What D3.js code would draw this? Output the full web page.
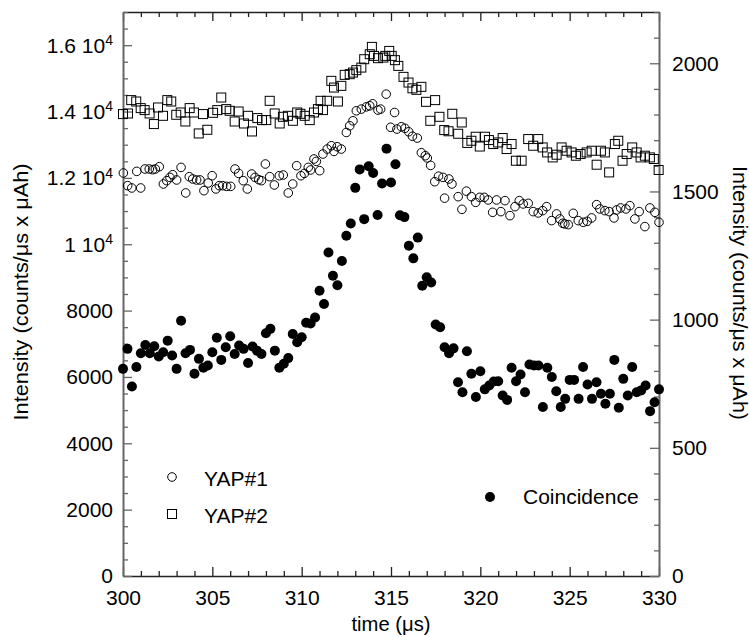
<!DOCTYPE html>
<html>
<head>
<meta charset="utf-8">
<script src="https://cdn.jsdelivr.net/npm/d3@7"></script>
<style>
  html, body { margin: 0; padding: 0; background: #fff; }
  svg { display: block; }
  text { font-family: "Liberation Sans", Arial, Helvetica, sans-serif; fill: #000; }
</style>
</head>
<body>
<svg id="chart" width="750" height="637"></svg>
<script>
// ---------------- DATA ----------------
// YAP#1 (open circles, left axis)
const yap1Time = [300.02,300.26,300.49,300.77,300.99,301.23,301.47,301.66,301.81,302.03,302.26,302.45,302.63,302.78,303.0,303.25,303.51,303.71,303.9,304.12,304.31,304.53,304.77,304.99,305.2,305.39,305.58,305.8,306.03,306.27,306.47,306.73,306.96,307.2,307.39,307.6,307.75,307.97,308.21,308.47,308.75,308.97,309.25,309.5,309.72,309.96,310.15,310.37,310.5,310.69,310.82,311.01,311.19,311.43,311.66,311.81,311.99,312.22,312.5,312.69,312.87,313.06,313.34,313.62,313.81,313.97,314.27,314.42,314.73,314.98,315.2,315.33,315.58,315.78,315.99,316.2,316.47,316.7,316.92,317.03,317.22,317.45,317.66,317.91,318.0,318.24,318.41,318.76,318.97,319.22,319.5,319.74,319.97,320.22,320.44,320.69,320.91,321.15,321.38,321.66,321.94,322.18,322.4,322.68,322.96,323.24,323.49,323.71,323.99,324.27,324.45,324.61,324.73,324.92,325.2,325.48,325.76,325.98,326.23,326.51,326.69,326.97,327.21,327.48,327.63,327.85,328.15,328.37,328.65,328.89,329.21,329.49,329.77,330.0];
const yap1Value = [12147,11765,11696,12196,11696,12268,12268,12247,12268,12337,11816,11916,12015,12096,11937,12316,11546,12036,11967,11937,11937,11615,11846,12066,11666,11765,11765,11744,11744,12268,12135,11916,11666,12117,12015,11946,11916,12418,12036,11786,12066,12087,11546,11816,12367,12066,12135,12316,12238,12569,12497,12217,12719,12869,12969,12797,12939,12869,13369,13571,13721,14022,14073,14142,14172,14233,14043,14073,14524,13525,13971,13471,13541,13495,13390,13255,13200,12758,12668,12599,12376,11886,12051,12015,11389,11967,11816,11434,11052,11600,11434,11263,11413,11413,11335,10962,11335,10983,11314,10862,11133,11314,11215,11233,10983,10944,11013,11133,10712,10914,10763,10631,10613,10592,10932,10712,10661,10691,10793,11193,11064,11013,10983,10793,11034,11094,11064,11163,10763,10983,10532,11094,10962,10661];

// YAP#2 (open squares, left axis)
const yap2Time = [300.0,300.28,300.46,300.74,300.99,301.21,301.49,301.73,301.96,302.24,302.48,302.7,302.98,303.23,303.49,303.73,303.97,304.24,304.48,304.72,305.04,305.28,305.5,305.78,305.97,306.25,306.47,306.77,307.0,307.22,307.52,307.78,308.02,308.21,308.49,308.77,308.95,309.23,309.51,309.75,309.93,310.17,310.45,310.69,310.91,311.06,311.19,311.43,311.66,311.81,312.03,312.22,312.41,312.69,312.87,313.06,313.34,313.5,313.81,313.93,314.05,314.27,314.57,314.68,314.9,315.04,315.22,315.41,315.7,315.98,316.2,316.42,316.7,316.96,317.2,317.47,317.71,317.98,318.22,318.43,318.76,318.96,319.27,319.5,319.74,319.97,320.26,320.48,320.72,321.0,321.25,321.47,321.75,321.99,322.31,322.68,322.96,323.24,323.49,323.74,324.05,324.27,324.55,324.83,325.11,325.35,325.61,325.95,326.23,326.51,326.75,326.97,327.21,327.53,327.72,327.96,328.19,328.5,328.75,328.97,329.21,329.49,329.71,329.98];
const yap2Value = [13923,13941,14344,14302,14103,14043,13941,13622,14122,13871,14344,14302,13902,13971,13700,14103,13971,13339,13923,13450,13962,14043,14422,14073,14022,13700,14001,13640,13871,13399,13802,13742,13742,14323,13941,13640,13841,13871,13721,13971,13932,13871,13742,13971,14073,14323,14043,14323,14925,14723,14302,14774,15105,15126,15174,15247,15325,15577,15728,15948,15677,15608,15626,15677,15827,15677,15548,15376,15045,14874,14699,14654,14744,14293,13721,14344,13841,13441,13405,13932,13330,13670,13053,13119,13240,12945,13240,13140,13020,13068,13200,12869,13020,12517,12517,13170,12969,13170,12918,12767,12617,12698,12918,12818,12767,12668,12719,12767,12818,12397,12818,12767,12165,13020,13119,12517,12719,12918,12767,12617,12668,12617,12569,12238];

// Coincidence (filled circles, right axis)
const coincTime = [300,300.25,300.5,300.75,301,301.25,301.5,301.75,302,302.25,302.5,302.75,303,303.25,303.5,303.75,304,304.25,304.5,304.75,305,305.25,305.5,305.75,306,306.25,306.5,306.75,307,307.25,307.5,307.75,308,308.25,308.5,308.75,309,309.25,309.5,309.75,310,310.25,310.5,310.75,311,311.25,311.5,311.75,312,312.25,312.5,312.75,313,313.25,313.5,313.75,314,314.25,314.5,314.75,315,315.25,315.5,315.75,316,316.25,316.5,316.75,317,317.25,317.5,317.75,318,318.25,318.5,318.75,319,319.25,319.5,319.75,320,320.25,320.5,320.75,321,321.25,321.5,321.75,322,322.25,322.5,322.75,323,323.25,323.5,323.75,324,324.25,324.5,324.75,325,325.25,325.5,325.75,326,326.25,326.5,326.75,327,327.25,327.5,327.75,328,328.25,328.5,328.75,329,329.25,329.5,329.75,330];
const coincValue = [808,886,739,815,869,901,869,896,856,873,918,860,808,996,869,882,789,847,812,821,873,929,843,892,935,866,899,886,831,895,879,866,947,964,879,812,828,850,944,912,931,988,985,1008,1113,1061,1262,1171,1134,1229,1327,1375,1514,1586,1392,1598,1572,1408,1531,1667,1535,1606,1407,1400,1288,1239,1320,1132,1165,1145,981,970,892,869,888,756,717,877,789,698,799,728,743,759,760,704,687,812,760,786,717,825,821,821,659,812,776,721,659,691,765,765,691,815,747,691,756,711,672,711,843,656,769,704,815,717,724,743,643,678,728];

// Axes / ticks
const xDomain = [300, 330];
const xMajorTicks = [300, 305, 310, 315, 320, 325, 330];
const xTickLabels = ["300", "305", "310", "315", "320", "325", "330"];
const leftDomain = [0, 17000];
const leftMajorTicks = [0, 2000, 4000, 6000, 8000, 10000, 12000, 14000, 16000];
const leftTickLabels = ["0", "2000", "4000", "6000", "8000", "1 10", "1.2 10", "1.4 10", "1.6 10"];
const leftTickExp = ["", "", "", "", "", "4", "4", "4", "4"];
const rightDomain = [0, 2200];
const rightMajorTicks = [0, 500, 1000, 1500, 2000];
const rightTickLabels = ["0", "500", "1000", "1500", "2000"];

const xTitle = "time (\u03BCs)";
const yTitle = "Intensity (counts/\u03BCs x \u03BCAh)";
const legendNames = ["YAP#1", "YAP#2", "Coincidence"];

// ---------------- CHART ----------------
const svg = d3.select("#chart");
const M = { left: 123, right: 659, top: 12, bottom: 576 };

const x = d3.scaleLinear().domain(xDomain).range([M.left, M.right]);
const yL = d3.scaleLinear().domain(leftDomain).range([M.bottom, M.top]);
const yR = d3.scaleLinear().domain(rightDomain).range([M.bottom, M.top]);

const FS = 21, TFS = 20;
const majorLen = 9, minorLen = 5;

const xMinor = d3.range(xDomain[0], xDomain[1] + 0.001, 1).filter(v => v % 5 !== 0);
const lMinor = d3.range(0, leftDomain[1] + 1, 500).filter(v => v % 2000 !== 0);
const rMinor = d3.range(0, rightDomain[1] + 1, 100).filter(v => v % 500 !== 0);

function styleAxis(g, color, width) {
  g.select(".domain").attr("stroke", color).attr("stroke-width", width);
  g.selectAll(".tick line").attr("stroke", color).attr("stroke-width", 1.3);
  g.selectAll(".tick text").attr("font-size", FS).attr("font-family", "Liberation Sans, Arial, sans-serif").attr("fill", "#000");
}

// Bottom axis
const gB = svg.append("g").attr("transform", `translate(0,${M.bottom})`)
  .call(d3.axisBottom(x).tickValues(xMajorTicks).tickSizeInner(-majorLen).tickSizeOuter(0)
    .tickFormat((d, i) => xTickLabels[i]));
styleAxis(gB, "#222", 1.6);
gB.selectAll(".tick text").attr("y", 29).attr("dy", 0);
svg.append("g").attr("transform", `translate(0,${M.bottom})`)
  .call(d3.axisBottom(x).tickValues(xMinor).tickSizeInner(-minorLen).tickSizeOuter(0).tickFormat(""))
  .call(g => { g.select(".domain").remove(); g.selectAll(".tick line").attr("stroke", "#222").attr("stroke-width", 1.3); });

// Top axis
const gT = svg.append("g").attr("transform", `translate(0,${M.top})`)
  .call(d3.axisTop(x).tickValues(xMajorTicks).tickSizeInner(-majorLen).tickSizeOuter(0).tickFormat(""));
styleAxis(gT, "#222", 1.6);
svg.append("g").attr("transform", `translate(0,${M.top})`)
  .call(d3.axisTop(x).tickValues(xMinor).tickSizeInner(-minorLen).tickSizeOuter(0).tickFormat(""))
  .call(g => { g.select(".domain").remove(); g.selectAll(".tick line").attr("stroke", "#222").attr("stroke-width", 1.3); });

// Left axis
const gL = svg.append("g").attr("transform", `translate(${M.left},0)`)
  .call(d3.axisLeft(yL).tickValues(leftMajorTicks).tickSizeInner(-majorLen).tickSizeOuter(0).tickPadding(10)
    .tickFormat((d, i) => leftTickLabels[i]));
styleAxis(gL, "#666", 2);
gL.selectAll(".tick text").each(function(d, i) {
  const t = d3.select(this);
  t.attr("dy", "0.33em");
  if (leftTickExp[i]) {
    t.append("tspan").attr("font-size", 14).attr("dy", "-0.55em").text(leftTickExp[i]);
  }
});
svg.append("g").attr("transform", `translate(${M.left},0)`)
  .call(d3.axisLeft(yL).tickValues(lMinor).tickSizeInner(-minorLen).tickSizeOuter(0).tickFormat(""))
  .call(g => { g.select(".domain").remove(); g.selectAll(".tick line").attr("stroke", "#666").attr("stroke-width", 1.3); });

// Right axis
const gR = svg.append("g").attr("transform", `translate(${M.right},0)`)
  .call(d3.axisRight(yR).tickValues(rightMajorTicks).tickSizeInner(-majorLen).tickSizeOuter(0).tickPadding(13)
    .tickFormat((d, i) => rightTickLabels[i]));
styleAxis(gR, "#666", 2);
gR.selectAll(".tick text").attr("dy", "0.33em");
svg.append("g").attr("transform", `translate(${M.right},0)`)
  .call(d3.axisRight(yR).tickValues(rMinor).tickSizeInner(-minorLen).tickSizeOuter(0).tickFormat(""))
  .call(g => { g.select(".domain").remove(); g.selectAll(".tick line").attr("stroke", "#666").attr("stroke-width", 1.3); });

// Titles
svg.append("text").attr("x", 391).attr("y", 631).attr("text-anchor", "middle")
  .attr("font-size", TFS).attr("textLength", 79).attr("lengthAdjust", "spacingAndGlyphs").text(xTitle);
svg.append("text").attr("transform", "translate(28,292) rotate(-90)").attr("text-anchor", "middle")
  .attr("font-size", TFS).attr("textLength", 257).attr("lengthAdjust", "spacingAndGlyphs").text(yTitle);
svg.append("text").attr("transform", "translate(733,293) rotate(90)").attr("text-anchor", "middle")
  .attr("font-size", TFS).attr("textLength", 254).attr("lengthAdjust", "spacingAndGlyphs").text(yTitle);

// Data marks
const sq = 9;
const yap2 = yap2Time.map((t, i) => ({ t, v: yap2Value[i] }));
const yap1 = yap1Time.map((t, i) => ({ t, v: yap1Value[i] }));
const coinc = coincTime.map((t, i) => ({ t, v: coincValue[i] }));

svg.append("g").selectAll("rect").data(yap2).join("rect")
  .attr("x", d => x(d.t) - sq / 2).attr("y", d => yL(d.v) - sq / 2)
  .attr("width", sq).attr("height", sq)
  .attr("fill", "none").attr("stroke", "#000").attr("stroke-width", 1);

svg.append("g").selectAll("circle").data(yap1).join("circle")
  .attr("cx", d => x(d.t)).attr("cy", d => yL(d.v)).attr("r", 4.3)
  .attr("fill", "none").attr("stroke", "#000").attr("stroke-width", 1);

svg.append("g").selectAll("circle").data(coinc).join("circle")
  .attr("cx", d => x(d.t)).attr("cy", d => yR(d.v)).attr("r", 5)
  .attr("fill", "#000");

// Legend
const lg = svg.append("g");
lg.append("circle").attr("cx", 172).attr("cy", 477).attr("r", 4.3).attr("fill", "none").attr("stroke", "#000");
lg.append("text").attr("x", 204).attr("y", 486).attr("font-size", FS).text(legendNames[0]);
lg.append("rect").attr("x", 172 - 4.5).attr("y", 514 - 4.5).attr("width", 9).attr("height", 9)
  .attr("fill", "none").attr("stroke", "#000");
lg.append("text").attr("x", 204).attr("y", 523).attr("font-size", FS).text(legendNames[1]);
lg.append("circle").attr("cx", 490).attr("cy", 497).attr("r", 5).attr("fill", "#000");
lg.append("text").attr("x", 523).attr("y", 504).attr("font-size", FS).text(legendNames[2]);
</script>
</body>
</html>
